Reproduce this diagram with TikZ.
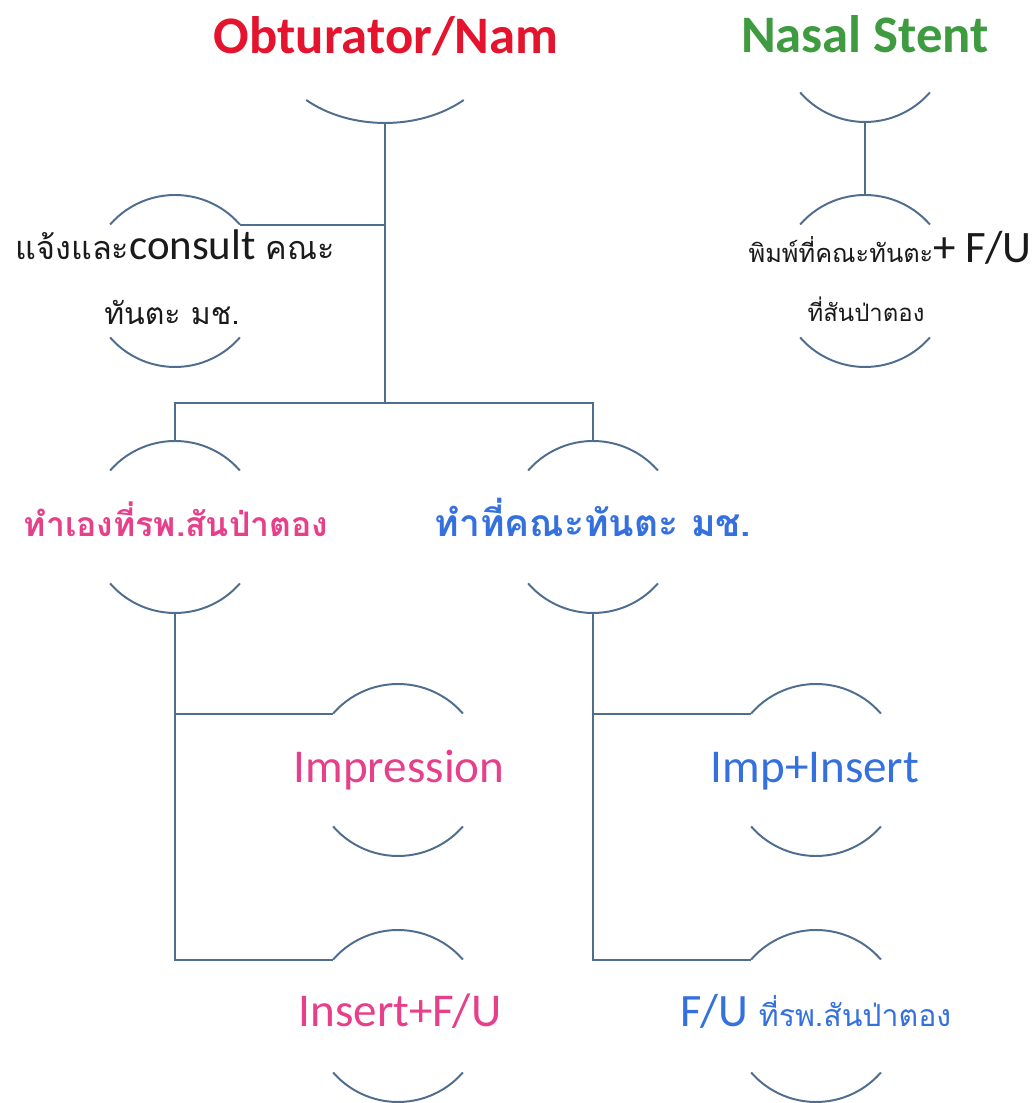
\documentclass[tikz,border=0pt]{standalone}
\usepackage{fontspec}
\setmainfont{Carlito}
\newfontfamily\thai[Script=Thai]{Loma}
\definecolor{linec}{HTML}{4F6E8E}
\definecolor{redt}{HTML}{E5142E}
\definecolor{greent}{HTML}{3E9B40}
\definecolor{pinkt}{HTML}{E6408A}
\definecolor{bluet}{HTML}{3470DE}
\definecolor{blackt}{HTML}{1A1A1A}
\begin{document}
\begin{tikzpicture}[x=0.025cm,y=0.025cm,
  conn/.style={draw=linec,line width=1.4pt},
  titletxt/.style={anchor=base,inner sep=0pt,font=\fontsize{37.5}{42}\selectfont\bfseries},
  lattxt/.style={anchor=base,inner sep=0pt,font=\fontsize{33.5}{38}\selectfont},
  mixtxt/.style={anchor=base,inner sep=0pt,text=blackt},
  thaibold/.style={anchor=base,inner sep=0pt,font=\fontsize{24}{28}\selectfont\thai\bfseries}]
\useasboundingbox (0,0) rectangle (1036,1103);
\clip (0,0) rectangle (1036,1103);
% shape centres
\coordinate (obt) at (385,1063);
\coordinate (nas) at (865,1067);
\coordinate (con) at (175,822);
\coordinate (stn) at (865,822);
\coordinate (slf) at (175,576);
\coordinate (fac) at (593,576);
\coordinate (imp) at (398,333);
\coordinate (ins) at (398,87);
\coordinate (ipi) at (816,333);
\coordinate (fu) at (816,87);
% arcs
\draw[conn] ([shift={(-78.8,-60)}]obt) arc[start angle=226.3,end angle=313.7,x radius=114,y radius=83];
\foreach \c in {nas,con,stn,slf,fac,imp,ins,ipi,fu}{
  \draw[conn] ([shift={(139:86)}]\c) arc[start angle=139,end angle=41,radius=86];
  \draw[conn] ([shift={(221:86)}]\c) arc[start angle=221,end angle=319,radius=86];
}
% connector anchors
\coordinate (obt-b) at ([shift={(0,-83)}]obt);
\coordinate (bus) at (385,700);
\coordinate (con-tr) at ([shift={(41:86)}]con);
\coordinate (nas-b) at ([shift={(0,-86)}]nas);
\coordinate (stn-t) at ([shift={(0,86)}]stn);
\coordinate (slf-t) at ([shift={(0,86)}]slf);
\coordinate (slf-b) at ([shift={(0,-86)}]slf);
\coordinate (fac-t) at ([shift={(0,86)}]fac);
\coordinate (fac-b) at ([shift={(0,-86)}]fac);
\coordinate (imp-tl) at ([shift={(139:86)}]imp);
\coordinate (ins-tl) at ([shift={(139:86)}]ins);
\coordinate (ipi-tl) at ([shift={(139:86)}]ipi);
\coordinate (fu-tl) at ([shift={(139:86)}]fu);
% connectors
\draw[conn] (obt-b) -- (bus);
\draw[conn] (obt-b |- con-tr) -- (con-tr);
\draw[conn] (slf-t) -- (slf-t |- bus) -- (fac-t |- bus) -- (fac-t);
\draw[conn] (nas-b) -- (stn-t);
\draw[conn] (slf-b) |- (ins-tl);
\draw[conn] (slf-b |- imp-tl) -- (imp-tl);
\draw[conn] (fac-b) |- (fu-tl);
\draw[conn] (fac-b |- ipi-tl) -- (ipi-tl);
% texts
\node[titletxt,text=redt] (obtT) at (386,1049) {Obturator/Nam};
\node[titletxt,text=greent] (nasT) at (865,1050) {Nasal Stent};
\node[mixtxt] (conT1) at (175,843) {{\fontsize{23}{26}\selectfont\thai แจ้งและ}{\fontsize{30.5}{34}\selectfont consult }{\fontsize{23}{26}\selectfont\thai คณะ}};
\node[mixtxt] (conT2) at (172,778) {\fontsize{21.5}{24}\selectfont\thai ทันตะ มช.};
\node[mixtxt] (stnT1) at (890,840) {{\fontsize{18}{22}\selectfont\thai พิมพ์ที่คณะทันตะ}{\fontsize{32}{34}\selectfont + F/U}};
\node[mixtxt] (stnT2) at (866,781) {\fontsize{17}{20}\selectfont\thai ที่สันป่าตอง};
\node[thaibold,text=pinkt] (slfT) at (176,566) {ทำเองที่รพ.สันป่าตอง};
\node[thaibold,text=bluet,font=\fontsize{26.5}{30}\selectfont\thai\bfseries] (facT) at (593,566) {ทำที่คณะทันตะ มช.};
\node[lattxt,text=pinkt] (impT) at (399,320) {Impression};
\node[lattxt,text=pinkt] (insT) at (400,76) {Insert+F/U};
\node[lattxt,text=bluet] (ipiT) at (815,320) {Imp+Insert};
\node[mixtxt,text=bluet] (fuT) at (816,76) {{\fontsize{33}{38}\selectfont F/U }{\fontsize{21.5}{26}\selectfont\thai ที่รพ.สันป่าตอง}};
\end{tikzpicture}
\end{document}
